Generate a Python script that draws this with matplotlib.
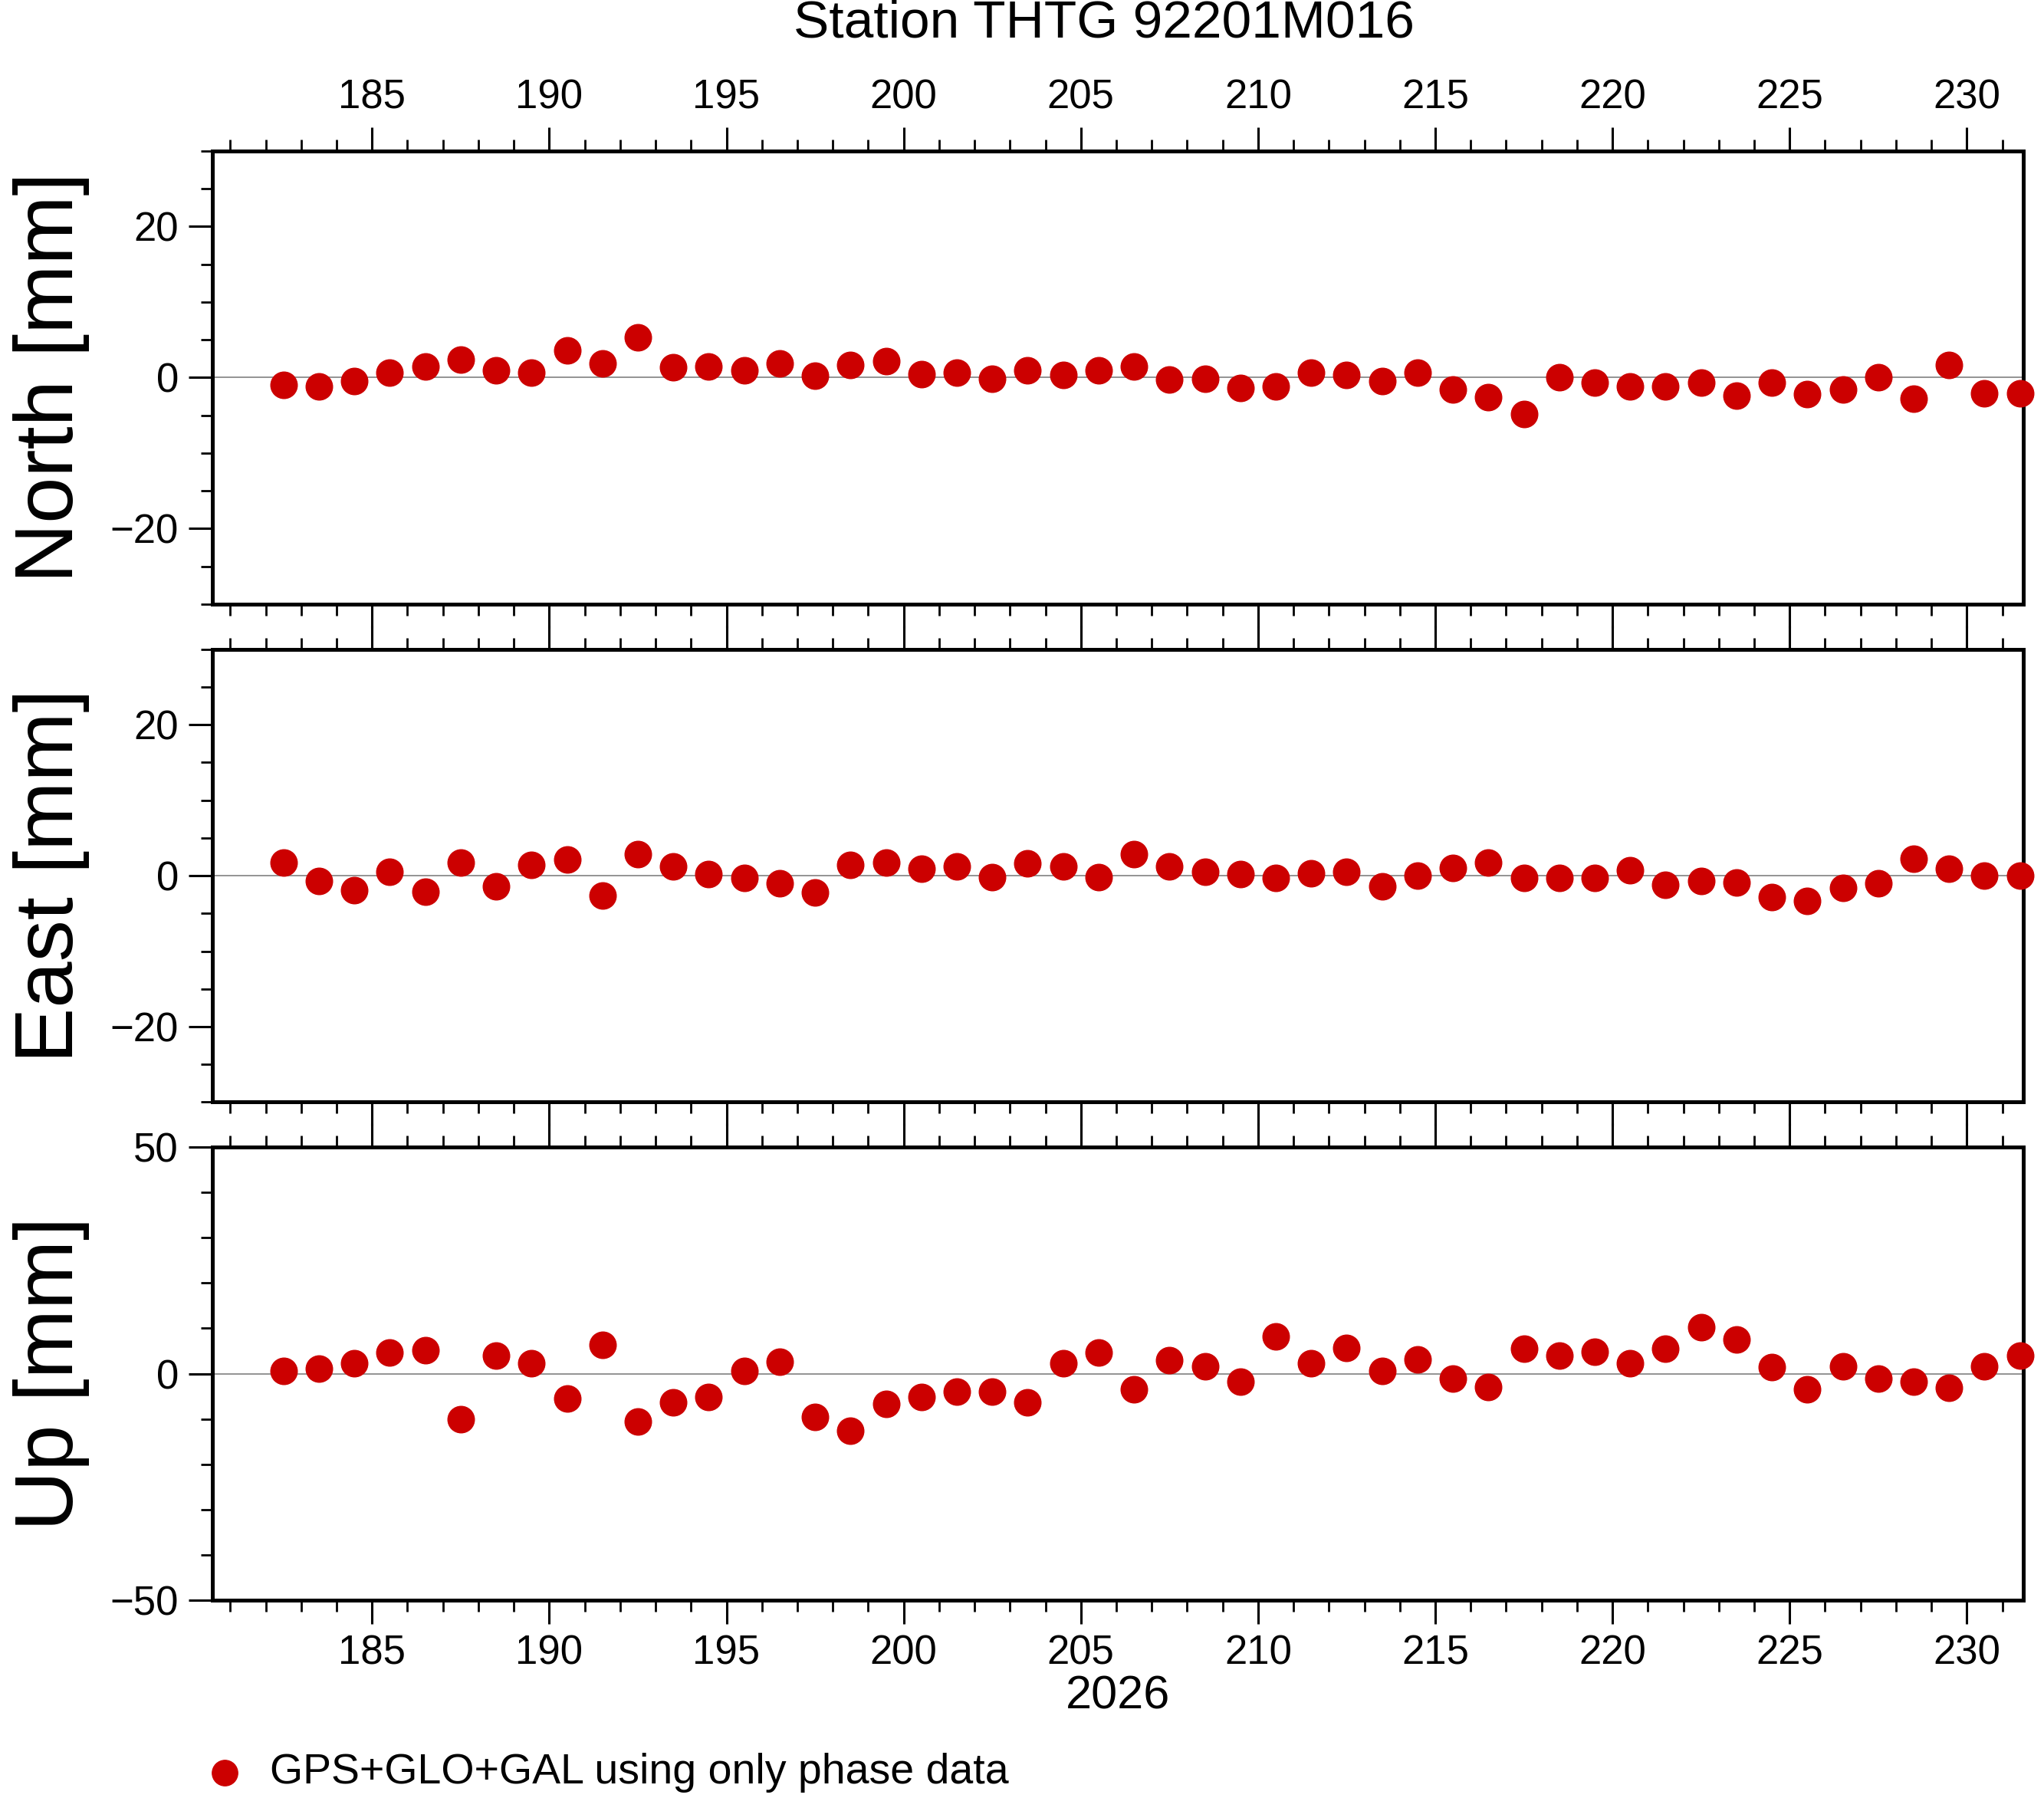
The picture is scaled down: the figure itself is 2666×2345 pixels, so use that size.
import numpy as np
import matplotlib
matplotlib.use("Agg")
import matplotlib.pyplot as plt
from matplotlib.ticker import MultipleLocator

plt.rcParams['font.family'] = ['Liberation Sans', 'DejaVu Sans']

days = np.arange(182.5, 232.0, 1.0)

north = [-1.0, -1.2, -0.5, 0.7, 1.5, 2.4, 1.0, 0.7, 3.6, 1.9,
         5.3, 1.4, 1.5, 1.0, 1.9, 0.2, 1.7, 2.2, 0.5, 0.7,
         -0.2, 1.0, 0.3, 1.0, 1.5, -0.3, -0.2, -1.4, -1.2, 0.7,
         0.3, -0.5, 0.7, -1.6, -2.6, -4.8, 0.0, -0.7, -1.2, -1.2,
         -0.7, -2.4, -0.7, -2.2, -1.6, 0.0, -2.8, 1.7, -2.1, -2.1]
east = [1.7, -0.7, -1.9, 0.5, -2.1, 1.7, -1.4, 1.4, 2.1, -2.6,
        2.8, 1.2, 0.2, -0.3, -1.0, -2.2, 1.4, 1.7, 0.9, 1.2,
        -0.2, 1.6, 1.2, -0.2, 2.8, 1.2, 0.5, 0.2, -0.3, 0.3,
        0.5, -1.4, 0.0, 1.0, 1.7, -0.3, -0.3, -0.3, 0.7, -1.2,
        -0.7, -0.9, -2.8, -3.3, -1.6, -1.0, 2.2, 0.9, 0.0, 0.0]
up = [0.6, 1.1, 2.3, 4.6, 5.2, -10.1, 4.0, 2.3, -5.5, 6.3,
      -10.6, -6.3, -5.2, 0.6, 2.6, -9.5, -12.6, -6.6, -5.2, -4.0,
      -4.0, -6.3, 2.3, 4.6, -3.4, 2.9, 1.7, -1.7, 8.3, 2.3,
      5.7, 0.6, 3.2, -1.1, -2.9, 5.5, 4.0, 4.9, 2.3, 5.5,
      10.3, 7.5, 1.4, -3.4, 1.7, -1.1, -1.7, -3.2, 1.7, 4.0]

panels = [("North [mm]", north, 30, 20, 5),
          ("East [mm]", east, 30, 20, 5),
          ("Up [mm]", up, 50, 50, 10)]
tops = [0.916, 0.639, 0.362]
height = 0.252

fig = plt.figure(figsize=(26.66, 23.45), dpi=100)
red = '#cc0000'

for i, (label, vals, lim, major, minor) in enumerate(panels):
    ax = fig.add_axes([0.104, tops[i] - height, 0.886, height])
    ax.axhline(0, color='#808080', lw=1.2, zorder=1)
    ax.scatter(days, vals, s=620, color=red, zorder=3, clip_on=False)
    ax.set_xlim(180.5, 231.6)
    ax.set_ylim(-lim, lim)
    ax.xaxis.set_major_locator(MultipleLocator(5))
    ax.xaxis.set_minor_locator(MultipleLocator(1))
    ax.yaxis.set_major_locator(MultipleLocator(major))
    ax.yaxis.set_minor_locator(MultipleLocator(minor))
    for s in ax.spines.values():
        s.set_linewidth(3.6)
    ax.tick_params(which='major', direction='out', length=22, width=2.2,
                   labelsize=38, top=True, bottom=True, pad=10)
    ax.tick_params(which='minor', direction='out', length=11, width=2.0,
                   top=True, bottom=True)
    ax.tick_params(axis='x', labeltop=(i == 0), labelbottom=(i == 2))
    ax.set_ylabel(label, fontsize=78, labelpad=12)
    ax.yaxis.set_label_coords(-0.068, 0.5)
    if i == 2:
        ax.set_xlabel("2026", fontsize=44, labelpad=2)

fig.text(0.54, 0.987, "Station THTG 92201M016", ha='center', va='center',
         fontsize=50)
fig.lines.append(plt.Line2D([0.11], [0.014], marker='o', markersize=24,
                            color=red, transform=fig.transFigure))
fig.text(0.132, 0.014, "GPS+GLO+GAL using only phase data", ha='left',
         va='center', fontsize=40)

fig.savefig("out.png", dpi=100)
